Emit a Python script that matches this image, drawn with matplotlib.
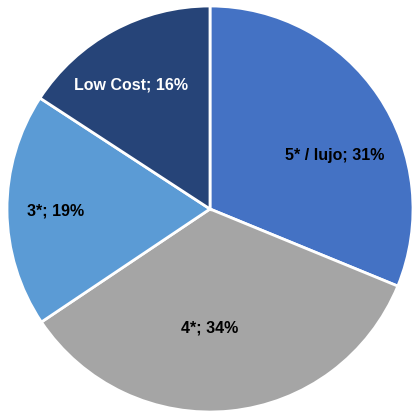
import numpy as np
import matplotlib.pyplot as plt

categories = ['5* / lujo', '4*', '3*', 'Low Cost']
shares = [31.2, 34.4, 18.6, 15.8]
colors = ['#4472C4', '#A5A5A5', '#5B9BD5', '#264478']
text_colors = ['black', 'black', 'black', 'white']
label_dist = [0.67, 0.58, 0.76, 0.73]
label_shift = [-10, -6, 0, 4]  # degrees, to mimic Excel label placement

fig = plt.figure(figsize=(4.12, 4.14), dpi=100)
fig.set_facecolor('white')
ax = fig.add_axes([(210 - 203) / 412, (204 - 203) / 414, 406 / 412, 406 / 414])

wedges, _ = ax.pie(shares, colors=colors, startangle=90, counterclock=False,
                   wedgeprops={'edgecolor': 'white', 'linewidth': 2})
ax.set_xlim(-1, 1)
ax.set_ylim(-1, 1)
ax.set_aspect('equal')
ax.axis('off')

total = sum(shares)
for w, name, val, tc, r, sh in zip(wedges, categories, shares, text_colors, label_dist, label_shift):
    ang = np.deg2rad((w.theta1 + w.theta2) / 2 + sh)
    ax.text(r * np.cos(ang), r * np.sin(ang), f'{name}; {round(val / total * 100)}%',
            ha='center', va='center', color=tc, fontsize=11.5, fontweight='bold',
            family='Liberation Sans')

fig.savefig('out.png', dpi=100, facecolor='white')
